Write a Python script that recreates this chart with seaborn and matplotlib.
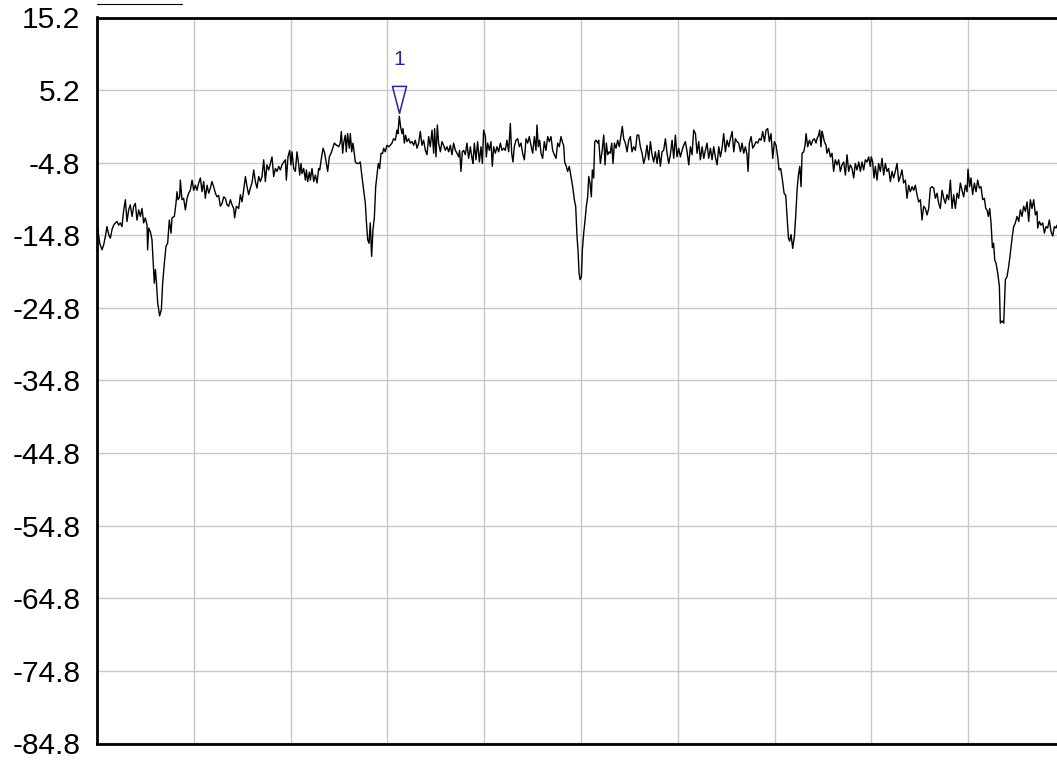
import numpy as np
import pandas as pd
import matplotlib
matplotlib.use("Agg")
import matplotlib.pyplot as plt
import seaborn as sns


# TRACE DATA (4 chunks left to right)

freq_a = [0.0, 2.8, 5.2, 6.9, 8.6, 10.3, 12.1, 13.8, 15.5, 17.2,
          18.9, 20.7, 22.4, 24.1, 25.8, 27.6, 29.3, 31.0, 32.7, 34.4,
          36.2, 37.9, 39.6, 41.3, 43.1, 44.8, 46.5, 48.2, 49.9, 51.7,
          52.3, 53.4, 55.1, 56.8, 57.9, 59.2, 60.3, 61.3, 62.7, 64.7,
          66.5, 67.8, 69.6, 71.3, 73.0, 74.7, 76.5, 77.5, 79.9, 81.6,
          82.7, 83.7, 85.4, 86.1, 87.8, 89.5, 91.3, 93.0, 94.7, 96.4,
          98.2, 99.9, 101.6, 103.3, 105.0, 106.8, 108.5, 110.2, 111.9, 113.7,
          115.4, 117.1, 118.8, 120.5, 122.3, 124.0, 125.7, 127.4, 129.2, 130.9,
          132.6, 134.3, 136.0, 137.8, 139.5, 141.2, 142.2, 144.0, 146.4, 148.1,
          149.8, 151.5, 153.3, 155.0, 156.7, 158.4, 160.1, 161.9, 163.6, 165.3,
          167.0, 168.8, 170.5, 172.2, 173.9, 175.6, 177.4, 179.1, 180.8, 182.5,
          184.3, 186.0, 187.7, 189.4, 191.1, 192.9, 194.6, 195.6, 197.3, 199.1,
          200.4, 201.5, 203.2, 204.9, 206.6, 208.4, 209.4, 210.8, 211.8, 213.5,
          215.3, 216.3, 217.7, 219.4, 220.4, 222.1, 223.9, 225.6, 227.3, 229.0,
          230.1, 231.8, 233.5, 235.2, 236.9, 238.3, 240.0, 241.8, 243.5, 245.2,
          247.3]
level_a = [-13.1, -15.9, -16.8, -16.1, -15.0, -13.6, -14.7, -15.2, -14.0, -13.4,
           -13.1, -12.9, -13.4, -13.1, -13.6, -11.3, -9.9, -12.9, -11.3, -10.6,
           -12.2, -10.8, -10.4, -12.7, -11.3, -12.2, -11.1, -13.1, -12.4, -13.4,
           -16.8, -13.8, -14.3, -15.4, -18.2, -21.4, -19.5, -21.1, -24.1, -25.9,
           -25.0, -21.4, -18.6, -16.3, -15.9, -12.7, -14.5, -12.4, -12.2, -10.4,
           -8.8, -9.9, -9.5, -7.2, -9.9, -9.7, -11.3, -9.7, -9.0, -8.6,
           -7.2, -8.6, -7.9, -8.6, -7.6, -6.9, -8.8, -7.4, -9.7, -7.9,
           -9.0, -8.3, -7.4, -8.1, -9.0, -9.5, -9.3, -10.8, -10.4, -9.5,
           -9.7, -10.6, -10.8, -9.9, -10.6, -11.1, -12.4, -10.8, -11.1, -9.2,
           -10.2, -8.6, -6.7, -8.1, -9.2, -8.3, -7.6, -5.8, -7.4, -8.3,
           -6.7, -7.4, -6.7, -4.4, -7.4, -5.1, -5.8, -4.9, -4.0, -6.7,
           -5.6, -6.0, -5.3, -5.8, -5.1, -4.7, -4.4, -7.2, -4.0, -3.1,
           -5.1, -3.3, -5.6, -6.0, -3.3, -5.1, -6.5, -4.9, -6.3, -5.6,
           -7.2, -5.8, -7.4, -6.1, -7.2, -5.6, -7.4, -6.5, -7.6, -5.6,
           -5.8, -4.2, -2.8, -3.5, -4.9, -6.0, -4.0, -3.5, -2.8, -2.1,
           -2.4]

freq_b = [247.9, 249.6, 251.3, 252.4, 253.8, 254.8, 256.5, 257.5, 258.9, 260.6,
          261.7, 263.1, 264.4, 265.8, 266.8, 268.6, 270.3, 272.0, 273.7, 275.5,
          277.2, 278.2, 279.6, 281.0, 282.3, 283.7, 285.1, 286.5, 287.9, 289.2,
          290.6, 292.0, 293.4, 295.1, 296.1, 297.8, 299.6, 301.3, 303.0, 304.7,
          306.4, 308.2, 309.9, 310.9, 312.3, 313.7, 315.1, 316.1, 317.5, 318.8,
          320.2, 321.9, 323.7, 325.4, 327.1, 328.8, 330.6, 332.3, 334.0, 335.7,
          337.4, 339.2, 340.9, 342.6, 344.3, 346.1, 347.8, 348.8, 350.2, 351.6,
          352.9, 354.7, 356.4, 358.1, 359.8, 361.6, 363.3, 365.0, 366.7, 368.4,
          370.2, 371.9, 373.6, 374.6, 376.0, 377.4, 378.8, 380.5, 382.2, 383.9,
          385.7, 387.4, 388.4, 389.8, 391.5, 393.2, 395.0, 396.7, 398.1, 399.4,
          401.2, 402.2, 403.6, 405.3, 407.0, 408.4, 409.8, 411.5, 413.2, 414.9,
          416.7, 418.4, 420.1, 421.8, 423.5, 425.3, 427.0, 428.4, 429.7, 431.1,
          432.8, 434.6, 436.3, 438.0, 439.7, 441.5, 443.2, 444.9, 446.6, 448.3,
          450.1, 451.8, 453.5, 454.5, 455.9, 457.3, 458.7, 460.4, 462.1, 463.8,
          465.6, 467.3, 469.0, 470.7, 472.5, 474.2, 475.9, 477.6, 479.3, 481.1,
          482.1, 483.1, 484.8, 486.2, 487.9, 489.7, 491.4, 493.1, 494.5, 495.9]
level_b = [-2.4, -2.6, -2.1, -0.5, -3.5, -2.1, -1.0, -3.3, -0.8, -2.8,
           -0.8, -3.3, -2.1, -3.5, -4.7, -4.9, -4.9, -4.7, -6.7, -8.6,
           -10.4, -12.7, -15.4, -15.9, -13.1, -17.7, -14.0, -12.4, -8.1, -6.5,
           -4.9, -5.6, -3.5, -3.5, -2.8, -3.3, -2.4, -2.6, -2.4, -2.1,
           -1.5, -1.7, -0.3, -0.8, 1.6, 0.1, -0.8, -0.1, -2.1, -1.0,
           -1.9, -1.5, -2.1, -1.9, -2.4, -1.7, -2.8, -2.1, -0.5, -2.4,
           -1.7, -3.1, -3.7, -1.2, -2.6, -0.3, -3.5, -0.1, -4.0, 0.4,
           -2.1, -3.3, -1.9, -2.4, -3.1, -2.6, -3.3, -2.4, -3.7, -2.1,
           -3.1, -3.5, -4.0, -3.1, -6.0, -3.3, -3.1, -3.7, -2.1, -4.2,
           -2.6, -4.2, -4.9, -2.1, -4.4, -1.9, -4.7, -2.6, -4.9, -0.3,
           -1.2, -4.0, -2.1, -3.1, -1.9, -5.3, -2.6, -3.5, -2.6, -3.3,
           -2.1, -3.1, -2.8, -3.1, -1.7, -3.3, 0.6, -3.5, -4.7, -2.6,
           -1.7, -1.5, -2.6, -2.1, -3.5, -4.4, -1.5, -2.1, -1.2, -2.4,
           -3.5, -1.2, -3.1, 0.4, -2.6, -1.7, -3.5, -4.2, -1.9, -3.1,
           -1.2, -1.9, -1.2, -3.1, -3.7, -4.2, -2.1, -2.6, -1.2, -2.1,
           -2.4, -4.7, -5.3, -6.0, -5.3, -6.7, -8.1, -9.9, -10.8, -15.0]

freq_c = [496.9, 498.0, 499.0, 500.4, 501.4, 502.8, 504.2, 505.5, 506.9, 508.0,
          509.3, 510.7, 511.7, 513.1, 514.2, 515.5, 517.3, 518.3, 520.0, 521.7,
          523.5, 524.8, 526.2, 527.6, 529.0, 530.3, 531.7, 533.1, 534.5, 536.2,
          537.9, 539.6, 541.4, 542.7, 544.1, 545.8, 547.6, 549.3, 551.0, 552.7,
          554.4, 556.2, 557.9, 559.6, 561.3, 563.1, 564.8, 566.5, 568.2, 569.9,
          571.7, 573.4, 575.1, 576.8, 578.6, 580.3, 582.0, 583.7, 585.4, 587.2,
          588.9, 590.6, 592.3, 594.1, 595.8, 597.5, 599.2, 600.9, 602.7, 604.4,
          606.1, 607.8, 609.6, 611.3, 613.0, 614.7, 616.4, 618.2, 619.9, 621.6,
          623.3, 625.1, 626.8, 628.5, 630.2, 631.9, 633.7, 635.4, 637.1, 638.8,
          640.6, 642.3, 644.0, 645.7, 647.4, 649.2, 650.9, 652.6, 654.3, 656.1,
          657.8, 659.5, 661.2, 662.9, 664.7, 666.4, 668.1, 669.8, 671.5, 672.6,
          673.9, 675.7, 677.4, 679.1, 680.8, 682.6, 684.3, 686.0, 687.7, 689.5,
          691.2, 692.9, 694.6, 696.3, 698.1, 699.8, 701.5, 703.2, 704.6, 706.3,
          708.1, 709.8, 711.5, 712.9, 714.3, 715.6, 717.0, 718.7, 720.5, 721.8,
          723.2, 724.6, 726.0, 727.3, 728.4, 730.1, 731.5, 732.5, 734.2, 736.0,
          737.7, 739.4, 741.1, 742.8]
level_c = [-16.8, -20.0, -20.9, -20.5, -16.8, -14.5, -12.7, -10.8, -9.5, -6.7,
           -7.6, -9.5, -5.8, -6.9, -1.9, -1.7, -2.1, -1.7, -4.9, -3.3,
           -1.0, -5.1, -2.1, -3.7, -3.3, -3.5, -2.1, -4.9, -2.1, -2.8,
           -1.7, -2.6, -1.0, 0.2, -1.5, -2.1, -3.3, -1.7, -1.2, -3.3,
           -2.6, -3.1, -1.0, -1.0, -2.6, -3.5, -4.9, -4.0, -2.4, -4.4,
           -1.9, -3.7, -4.7, -3.3, -4.9, -3.1, -5.3, -3.3, -3.1, -1.5,
           -3.5, -4.9, -3.7, -1.7, -4.2, -1.0, -4.0, -2.8, -4.0, -3.1,
           -2.4, -1.9, -3.3, -5.1, -2.6, -3.7, -0.3, -0.8, -3.5, -1.9,
           -4.4, -2.6, -4.2, -3.1, -2.1, -4.2, -2.8, -4.4, -2.6, -4.0,
           -5.1, -2.6, -4.0, -2.8, -0.8, -3.3, -1.7, -2.6, -1.5, -0.5,
           -3.3, -1.5, -1.9, -2.1, -3.3, -2.1, -3.5, -2.6, -3.7, -6.0,
           -2.1, -1.2, -2.8, -2.4, -1.9, -2.1, -1.5, -1.7, -0.5, -1.9,
           -0.3, -0.1, -1.9, -0.8, -4.2, -1.9, -2.4, -4.0, -5.8, -5.6,
           -7.2, -9.0, -9.3, -12.2, -15.2, -15.6, -14.7, -16.6, -14.9, -12.2,
           -8.6, -6.5, -5.3, -8.1, -3.5, -3.3, -2.4, -0.8, -2.6, -1.7,
           -2.4, -1.7, -1.5, -2.1]

freq_d = [743.8, 745.5, 746.6, 747.9, 749.0, 750.0, 751.4, 753.1, 754.1, 755.9,
          757.6, 759.3, 761.0, 762.7, 764.5, 766.2, 767.9, 769.6, 771.4, 773.1,
          774.8, 776.5, 778.2, 780.0, 781.7, 783.4, 785.1, 786.9, 788.6, 790.3,
          792.0, 793.7, 795.5, 797.2, 798.9, 799.9, 801.3, 802.7, 804.1, 805.8,
          807.5, 809.2, 811.0, 812.7, 814.4, 816.1, 817.8, 819.6, 821.3, 823.0,
          824.7, 826.5, 828.2, 829.9, 831.6, 833.3, 835.1, 836.8, 838.5, 840.2,
          842.0, 843.7, 845.4, 847.1, 848.8, 850.6, 852.3, 854.0, 855.7, 857.5,
          859.2, 860.9, 862.6, 864.3, 866.1, 867.8, 869.5, 871.2, 873.0, 874.7,
          876.4, 878.1, 879.8, 881.6, 883.3, 885.0, 886.7, 888.5, 890.2, 891.9,
          893.6, 895.3, 897.1, 898.8, 899.8, 901.5, 902.9, 904.6, 906.4, 908.1,
          909.8, 911.5, 913.2, 915.0, 916.7, 918.1, 919.4, 920.8, 922.2, 923.6,
          925.0, 926.3, 927.4, 928.7, 930.5, 932.2, 933.2, 935.0, 936.7, 938.4,
          940.1, 941.8, 943.6, 945.3, 947.0, 948.7, 950.4, 952.2, 953.9, 955.6,
          957.3, 959.1, 960.8, 962.5, 964.2, 965.9, 967.7, 969.4, 971.1, 971.8,
          973.5, 975.2, 977.0, 978.7, 980.4, 982.1, 983.8, 985.6, 987.3, 989.0,
          990.7, 991.8]
level_d = [-1.5, -1.0, -0.3, -2.6, -0.5, -1.0, -1.9, -2.4, -3.5, -2.8,
           -4.0, -3.5, -6.0, -4.4, -5.1, -4.4, -6.0, -5.1, -4.7, -6.5,
           -3.7, -6.0, -5.1, -5.6, -6.9, -4.9, -5.8, -4.7, -6.0, -4.7,
           -5.8, -4.4, -4.7, -4.0, -5.3, -4.0, -4.7, -6.9, -5.3, -7.2,
           -4.9, -6.0, -4.2, -6.5, -4.9, -6.0, -5.6, -7.4, -6.0, -6.9,
           -6.0, -4.9, -7.4, -6.7, -5.8, -7.6, -7.2, -9.7, -7.9, -8.8,
           -8.1, -8.6, -7.9, -9.2, -10.2, -9.9, -12.7, -10.8, -11.1, -12.0,
           -11.1, -8.3, -8.1, -8.3, -9.7, -9.0, -10.4, -11.1, -8.6, -9.7,
           -10.4, -9.2, -9.9, -7.2, -11.1, -9.2, -11.1, -9.0, -9.7, -7.6,
           -8.6, -9.5, -7.9, -8.8, -5.7, -8.1, -6.9, -9.2, -7.6, -8.8,
           -7.2, -8.3, -8.1, -9.9, -9.7, -11.1, -11.3, -12.2, -11.1, -13.1,
           -16.5, -15.9, -18.2, -18.6, -20.0, -21.8, -26.9, -26.6, -26.9, -20.9,
           -20.5, -19.1, -17.2, -15.2, -13.6, -13.1, -12.2, -12.9, -11.3, -12.2,
           -10.8, -11.5, -10.2, -12.9, -9.9, -11.1, -9.9, -12.0, -11.5, -13.8,
           -12.9, -13.4, -13.1, -14.5, -13.6, -13.8, -12.7, -14.3, -14.9, -13.6,
           -13.8, -13.4]

# marker 1
marker_freq = 312.3
marker_level = 2.0
marker_label = "1"

# axis
ref_level = 15.2
y_bottom = -84.8
db_per_div = 10
x_span = 1000
x_divs = 10


# MONTANDO O DATAFRAME

partes = []
for f, l in [(freq_a, level_a), (freq_b, level_b), (freq_c, level_c), (freq_d, level_d)]:
    partes.append(pd.DataFrame({"freq": f, "level": l}))
df = pd.concat(partes, ignore_index=True)


# GRAFICO

sns.set_style("white")
plt.rcParams['font.family'] = ['Liberation Sans', 'DejaVu Sans']

fig = plt.figure(figsize=(10.57, 7.60), dpi=100)
ax = fig.add_axes([97 / 1057, 16.5 / 760, 968 / 1057, 726 / 760])

sns.lineplot(data=df, x="freq", y="level", color="black", linewidth=1.0,
             estimator=None, sort=False, ax=ax)

blue = "#25259c"
tri = [(0, 0), (-0.26, 1), (0.26, 1), (0, 0)]
ax.plot([marker_freq], [marker_level], marker=tri, markersize=39,
        markerfacecolor="none", markeredgecolor=blue, markeredgewidth=1.1,
        linestyle="none")
ax.annotate(marker_label, (marker_freq, marker_level), xytext=(0, 39),
            textcoords="offset points", ha="center", va="center",
            color=blue, fontsize=15)

yticks = np.arange(y_bottom, ref_level + 0.01, db_per_div)
ax.set_xlim(0, x_span)
ax.set_ylim(y_bottom, ref_level)
ax.set_xticks(np.linspace(0, x_span, x_divs + 1))
ax.set_xticklabels([])
ax.set_yticks(yticks)
ax.set_yticklabels([f"{v:.1f}" for v in yticks])
ax.tick_params(length=0, labelsize=21.5, pad=12, labelcolor="black")
ax.grid(True, color="#c8c8c8", linewidth=1)
ax.set_xlabel("")
ax.set_ylabel("")
for s in ax.spines.values():
    s.set_color("black")
    s.set_linewidth(2)

# tracinho no topo
fig.add_artist(plt.Line2D([97 / 1057, 182 / 1057], [1 - 3.5 / 760] * 2,
                          color="black", linewidth=0.8))

fig.savefig("out.png", dpi=100)
